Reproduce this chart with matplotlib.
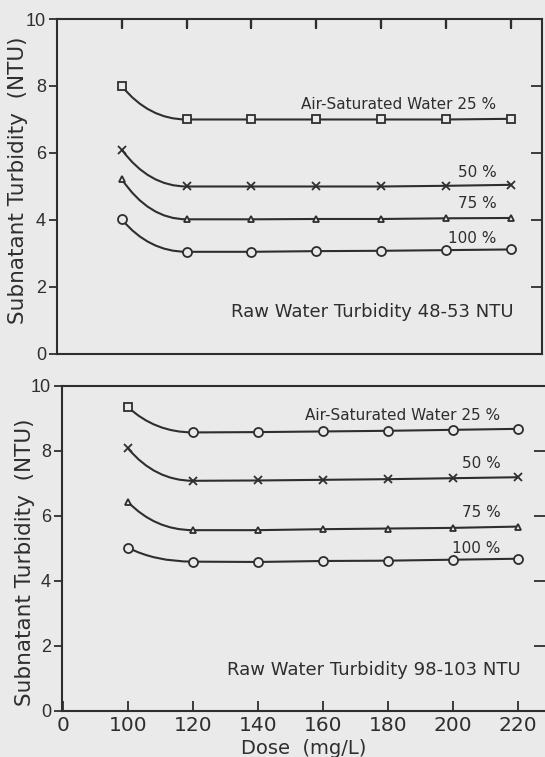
import matplotlib
matplotlib.use("Agg")
import matplotlib.pyplot as plt
from matplotlib.path import Path
from matplotlib.patches import PathPatch
from matplotlib import lines as mlines

# ---------------- data ----------------
dose = [100, 120, 140, 160, 180, 200, 220]
series_labels = ["Air-Saturated Water 25 %", "50 %", "75 %", "100 %"]

top_25 = [8.0, 7.0, 7.0, 7.0, 7.0, 7.0, 7.02]
top_50 = [6.1, 5.0, 5.0, 5.0, 5.0, 5.02, 5.05]
top_75 = [5.22, 4.02, 4.02, 4.03, 4.03, 4.05, 4.06]
top_100 = [4.02, 3.05, 3.05, 3.07, 3.08, 3.1, 3.12]
top_title = "Raw Water Turbidity 48-53 NTU"

bot_25 = [9.35, 8.57, 8.58, 8.6, 8.62, 8.65, 8.68]
bot_50 = [8.08, 7.08, 7.09, 7.11, 7.13, 7.16, 7.19]
bot_75 = [6.43, 5.56, 5.56, 5.59, 5.61, 5.63, 5.67]
bot_100 = [5.02, 4.59, 4.58, 4.61, 4.62, 4.65, 4.68]
bot_title = "Raw Water Turbidity 98-103 NTU"

x_ticks = [80, 100, 120, 140, 160, 180, 200, 220]
x_ticklabels = ["0", "100", "120", "140", "160", "180", "200", "220"]
y_ticks = [0, 2, 4, 6, 8, 10]

# ---------------- style ----------------
BG = "#eaeaea"
INK = "#2e2e2e"
LW = 1.5

fig = plt.figure(figsize=(5.45, 7.57), dpi=100, facecolor=BG)

ax_top = fig.add_axes([0.1046, 0.5324, 0.8899, 0.4425])
ax_bot = fig.add_axes([0.1138, 0.0612, 0.8862, 0.4289])


def draw_series(ax, xs, ys, first_marker, rest_marker, ms_first, ms_rest):
    x0, x1 = xs[0], xs[1]
    y0, y1 = ys[0], ys[1]
    xc = x0 + 0.42 * (x1 - x0)
    path = Path([(x0, y0), (xc, y1), (x1, y1)],
                [Path.MOVETO, Path.CURVE3, Path.CURVE3])
    ax.add_patch(PathPatch(path, fill=False, edgecolor=INK, lw=LW, zorder=2))
    ax.plot(xs[1:], ys[1:], color=INK, lw=LW, zorder=2)
    mfc = "none" if first_marker == "x" else BG
    ax.plot([xs[0]], [ys[0]], linestyle="none", marker=first_marker,
            ms=ms_first, mfc=mfc, mec=INK, mew=1.3, zorder=3)
    mfc = "none" if rest_marker == "x" else BG
    ax.plot(xs[1:], ys[1:], linestyle="none", marker=rest_marker,
            ms=ms_rest, mfc=mfc, mec=INK, mew=1.3, zorder=3)


for ax in (ax_top, ax_bot):
    ax.set_facecolor(BG)
    ax.set_ylim(0, 10)
    for s in ax.spines.values():
        s.set_color(INK)
        s.set_linewidth(1.5)

# top panel
ax_top.set_xlim(80.06, 229.55)
ax_top.set_xticks(x_ticks[1:])
ax_top.tick_params(axis="x", bottom=False, labelbottom=False, top=True,
                   direction="in", length=7, width=1.5, color=INK)
# inward tick marks along the top edge, drawn as short segments in axes-height units
ax_top.vlines(x_ticks[1:], 0.972, 1.0, transform=ax_top.get_xaxis_transform(),
              colors=INK, linewidth=1.6, zorder=5, clip_on=False)
draw_series(ax_top, dose, top_25, "s", "s", 5.5, 5.5)
draw_series(ax_top, dose, top_50, "x", "x", 6, 6)
draw_series(ax_top, dose, top_75, "^", "^", 5, 5)
draw_series(ax_top, dose, top_100, "o", "o", 6.5, 6.5)

lab_pos_top = [(215.5, 7.45), (215.6, 5.43), (215.6, 4.48), (215.6, 3.46)]
for lbl, (lx, ly) in zip(series_labels, lab_pos_top):
    ax_top.text(lx, ly, lbl, ha="right", va="center", fontsize=11, color=INK)
ax_top.text(220.9, 1.25, top_title, ha="right", va="center", fontsize=13, color=INK)

# bottom panel
ax_bot.set_xlim(79.72, 228.3)
ax_bot.set_xticks(x_ticks)
ax_bot.set_xticklabels(x_ticklabels, fontfamily=["Liberation Sans Narrow", "DejaVu Sans"],
                       fontsize=14.5, color=INK)
ax_bot.tick_params(axis="x", bottom=True, top=False, direction="in", length=7,
                   width=1.3, color=INK, pad=4)
draw_series(ax_bot, dose, bot_25, "s", "o", 5.5, 6.5)
draw_series(ax_bot, dose, bot_50, "x", "x", 6, 6)
draw_series(ax_bot, dose, bot_75, "^", "^", 5, 5)
draw_series(ax_bot, dose, bot_100, "o", "o", 6.5, 6.5)
ax_bot.spines["right"].set_visible(False)
ax_bot.set_xlabel("Dose  (mg/L)", fontsize=14, color=INK, labelpad=3)

lab_pos_bot = [(214.6, 9.1), (214.6, 7.61), (214.6, 6.11), (214.6, 5.01)]
for lbl, (lx, ly) in zip(series_labels, lab_pos_bot):
    ax_bot.text(lx, ly, lbl, ha="right", va="center", fontsize=11, color=INK)
ax_bot.text(220.8, 1.26, bot_title, ha="right", va="center", fontsize=13, color=INK)

# y axes (both panels)
for ax, lx, ly in ((ax_top, -0.060, 0.52), (ax_bot, -0.056, 0.458)):
    ax.set_yticks(y_ticks)
    ax.set_yticklabels([str(v) for v in y_ticks],
                       fontfamily=["Liberation Sans", "DejaVu Sans"], fontsize=13,
                       color=INK)
    ax.set_ylabel("Subnatant Turbidity  (NTU)", fontsize=15.5, color=INK)
    ax.yaxis.set_label_coords(lx, ly)
    ax.tick_params(axis="y", left=True, right=True, width=1.3, color=INK, pad=2,
                   direction="out", length=6)
    yt = ax.yaxis.get_major_ticks()
    for t in yt:
        t.tick2line.set_marker(mlines.TICKLEFT)
        t.tick2line.set_markersize(8)
    yt[0].tick2line.set_visible(False)
    yt[-1].tick2line.set_visible(False)

fig.savefig("out.png", dpi=100, facecolor=BG)
